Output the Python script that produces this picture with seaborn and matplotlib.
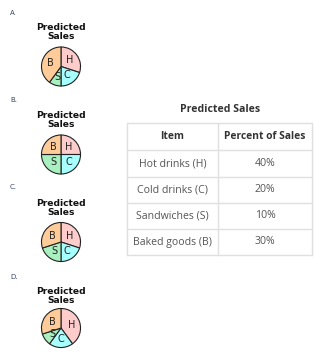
import matplotlib
matplotlib.use("Agg")
import matplotlib.pyplot as plt
import seaborn as sns

sns.set_theme(style="white")
plt.rcParams['font.family'] = ['DejaVu Sans']

# ---- data ----
option_labels = ["A.", "B.", "C.", "D."]
wedge_letters = ["H", "C", "S", "B"]
option_a = [30, 20, 10, 40]
option_b = [25, 25, 25, 25]
option_c = [30, 20, 20, 30]
option_d = [40, 20, 10, 30]
table_items = ["Hot drinks (H)", "Cold drinks (C)", "Sandwiches (S)", "Baked goods (B)"]
table_percents = ["40%", "20%", "10%", "30%"]
table_headers = ["Item", "Percent of Sales"]
wedge_colors = sns.color_palette(["#ffcccc", "#a8ffff", "#a8f0c0", "#ffcc99"])

W, H = 336, 357
fig = plt.figure(figsize=(W / 100, H / 100), dpi=100)
fig.patch.set_facecolor("white")


def px_axes(x0, y0, w, h):
    return fig.add_axes([x0 / W, 1 - (y0 + h) / H, w / W, h / H])


options = [option_a, option_b, option_c, option_d]
label_y = [13, 100, 187, 277]
title_y = [32, 120, 208, 296]
pie_cy = [66.5, 154.5, 242, 328]
pie_cx = 61
r = 19.5

for lab, vals, ly, ty, cy in zip(option_labels, options, label_y, title_y, pie_cy):
    fig.text(10 / W, 1 - ly / H, lab, fontsize=5, color="#334466",
             ha="left", va="center")
    fig.text(pie_cx / W, 1 - ty / H, "Predicted\nSales", fontsize=6.6,
             fontweight="bold", color="#111111", ha="center", va="center",
             linespacing=1.0)
    ax = px_axes(pie_cx - r - 1, cy - r - 1, 2 * r + 2, 2 * r + 2)
    wedges, texts = ax.pie(vals, colors=wedge_colors, labels=wedge_letters,
                           startangle=90, counterclock=False,
                           labeldistance=0.55,
                           wedgeprops=dict(edgecolor="#222222", linewidth=0.8),
                           textprops=dict(fontsize=7, color="#222222",
                                          ha="center", va="center"))
    ax.set_xlim(-1.05, 1.05)
    ax.set_ylim(-1.05, 1.05)
    ax.set_aspect("equal")
    ax.axis("off")

# ---- table ----
fig.text(220 / W, 1 - 110 / H, "Predicted Sales", fontsize=7.6,
         fontweight="bold", color="#333333", ha="center", va="center",
         family=["Open Sans", "DejaVu Sans"])

tx0, tx1, txm = 127, 312, 218
row_edges = [123, 150, 177, 203, 229, 255]
tax = px_axes(0, 0, W, H)
tax.set_xlim(0, W)
tax.set_ylim(H, 0)
tax.axis("off")
grid_c = "#e0e0e0"
for ye in row_edges:
    tax.plot([tx0, tx1], [ye, ye], color=grid_c, lw=1)
for xe in [tx0, txm, tx1]:
    tax.plot([xe, xe], [row_edges[0], row_edges[-1]], color=grid_c, lw=1)

rows = [table_headers] + [[a, b] for a, b in zip(table_items, table_percents)]
for i, (a, b) in enumerate(rows):
    yc = (row_edges[i] + row_edges[i + 1]) / 2
    kw = dict(ha="center", va="center", family=["Open Sans", "DejaVu Sans"])
    if i == 0:
        kw.update(fontweight="bold", color="#333333", fontsize=7.4)
    else:
        kw.update(color="#555555", fontsize=7.6)
    tax.text((tx0 + txm) / 2, yc, a, **kw)
    tax.text((txm + tx1) / 2, yc, b, **kw)

fig.savefig("out.png", dpi=100, facecolor="white")
